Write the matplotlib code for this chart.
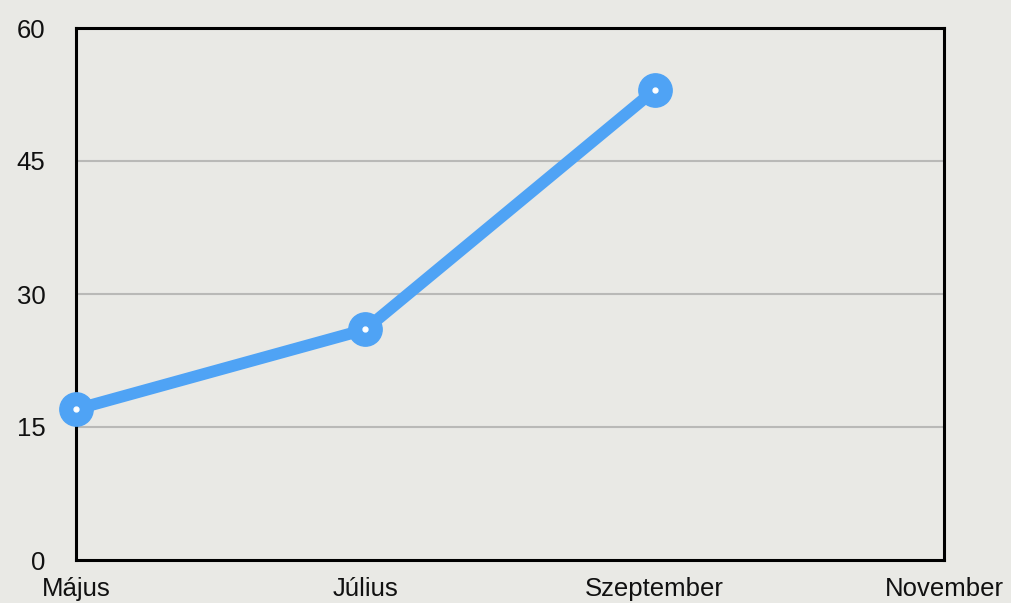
import matplotlib.pyplot as plt

# ---- data ----
months = ['Május', 'Július', 'Szeptember', 'November']
values = [17, 26, 53]
y_ticks = [0, 15, 30, 45, 60]

BG = '#e9e9e5'
BLUE = '#4fa3f5'

plt.rcParams['font.family'] = ['Liberation Sans', 'DejaVu Sans']

fig = plt.figure(figsize=(10.11, 6.03), dpi=100)
fig.patch.set_facecolor(BG)
ax = fig.add_axes([76 / 1011, 43 / 603, 868 / 1011, 532 / 603])
ax.set_facecolor(BG)

x = list(range(len(months)))
ax.plot(x[:len(values)], values, color=BLUE, lw=8.5, solid_capstyle='round',
        marker='o', markersize=24, markerfacecolor=BLUE, markeredgecolor=BLUE,
        clip_on=False, zorder=5)
ax.plot(x[:len(values)], values, ls='none', marker='o', markersize=3.5,
        markerfacecolor='white', markeredgecolor='white', clip_on=False, zorder=6)

ax.set_xlim(0, len(months) - 1)
ax.set_ylim(0, 60)
ax.set_xticks(x)
ax.set_xticklabels(months)
ax.set_yticks(y_ticks)

for v in y_ticks[1:-1]:
    ax.axhline(v, color='#b9b9b7', lw=1.5, zorder=1)

for s in ax.spines.values():
    s.set_linewidth(2.2)
    s.set_color('black')
    s.set_zorder(4)

ax.tick_params(axis='both', length=0, labelsize=18.5, colors='#111111')
ax.tick_params(axis='y', pad=22)
ax.tick_params(axis='x', pad=12)

fig.savefig('out.png', dpi=100, facecolor=BG)
